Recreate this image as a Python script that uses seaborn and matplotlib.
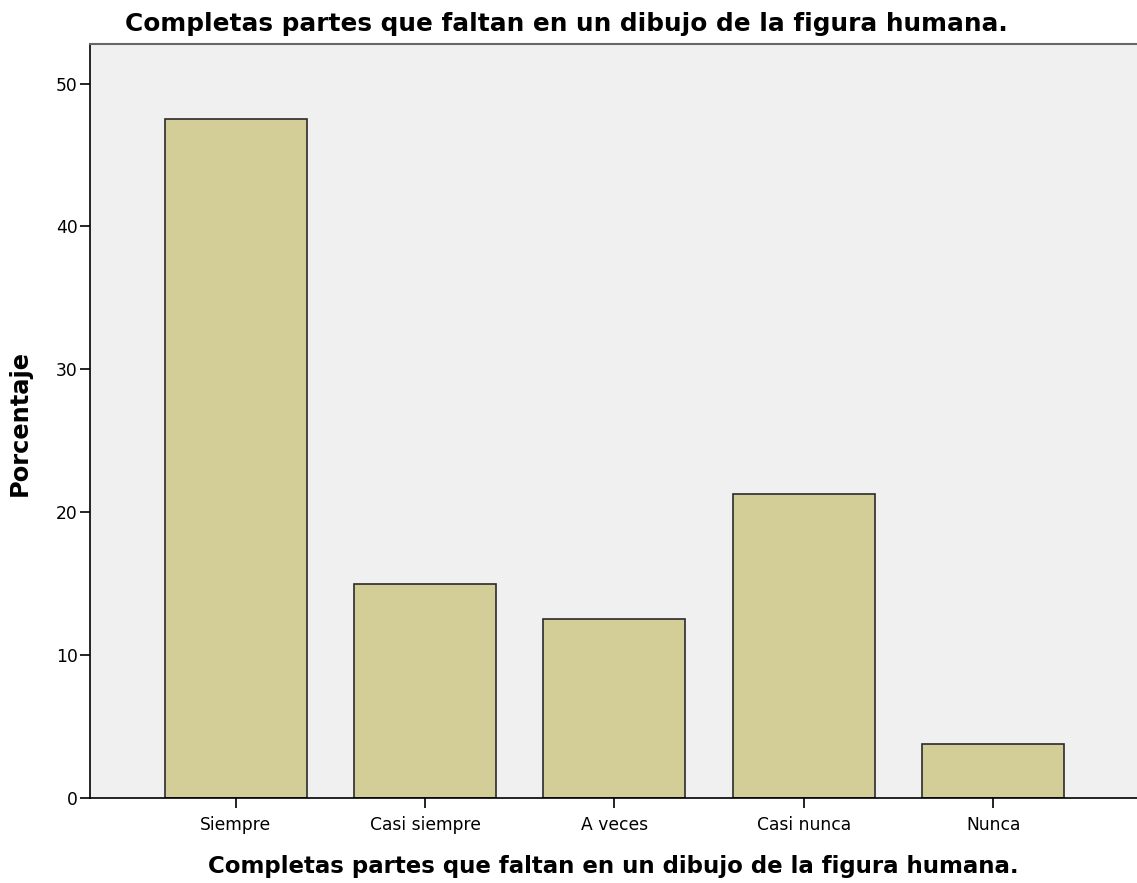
import pandas as pd
import matplotlib
matplotlib.use("Agg")
import matplotlib.pyplot as plt
import seaborn as sns

# datos (porcentajes)
categorias = ["Siempre", "Casi siempre", "A veces", "Casi nunca", "Nunca"]
porcentajes = [47.5, 15.0, 12.5, 21.25, 3.75]
y_ticks = [0, 10, 20, 30, 40, 50]

titulo = "Completas partes que faltan en un dibujo de la figura humana."

df = pd.DataFrame({"categoria": categorias, "porcentaje": porcentajes})

sns.set_style("white")
plt.rcParams["font.family"] = ["DejaVu Sans"]

fig = plt.figure(figsize=(11.37, 8.83), dpi=100)
ax = fig.add_axes([0.0792, 0.0963, 0.9208, 0.8544])
ax.set_facecolor("#F0F0F0")

sns.barplot(data=df, x="categoria", y="porcentaje", color="#D3CE98",
            saturation=1, width=0.75, edgecolor="#2b2b2b", linewidth=1.2, ax=ax)

ax.set_xlim(-0.77, 4.76)
ax.set_ylim(0, 52.8)
ax.set_yticks(y_ticks)

# bordes del área del gráfico
for lado in ["left", "bottom"]:
    ax.spines[lado].set_color("black")
    ax.spines[lado].set_linewidth(1.2)
ax.spines["top"].set_color("#666666")
ax.spines["top"].set_linewidth(1.5)
ax.spines["right"].set_visible(False)

ax.tick_params(axis="both", direction="out", length=7, width=1.2, color="black",
               labelsize=12.3, labelcolor="black", bottom=True, left=True)
ax.tick_params(axis="x", pad=6)
ax.tick_params(axis="y", pad=2)

ax.set_title(titulo, fontsize=17.85, fontweight="bold", pad=9, x=0.455,
             color="black")
ax.set_xlabel(titulo, fontsize=16.5, fontweight="bold", color="black",
              va="center")
ax.xaxis.set_label_coords(0.5, -0.0915)
ax.set_ylabel("Porcentaje", fontsize=17.4, fontweight="bold", color="black",
              va="center")
ax.yaxis.set_label_coords(-0.0669, 0.497)

fig.savefig("out.png", dpi=100)
